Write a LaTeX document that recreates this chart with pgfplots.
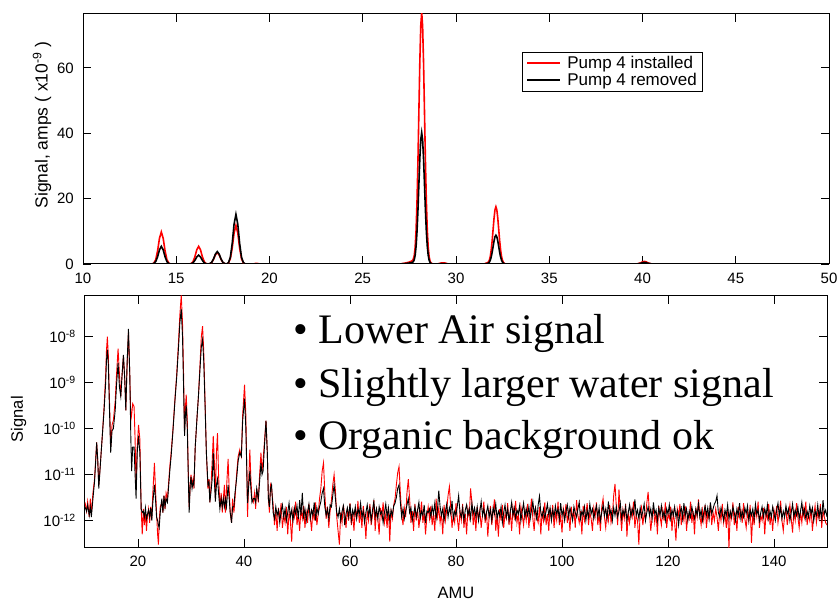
\documentclass[border=0pt]{standalone}
\usepackage{pgfplots}
\usepackage{pgfplotstable}
\pgfplotsset{compat=1.18}
\usepackage{fontspec}
\setmainfont{Liberation Sans}
\newfontfamily\timesfont{Liberation Serif}

% top panel: linear signal in units of 1e-9 A
\pgfplotstableread{
x r b
10 0 0
13.7 0 0
13.8 .27 .15
13.9 1.32 .73
14.0 4.03 2.22
14.1 7.85 4.33
14.2 9.8 5.4
14.3 7.85 4.33
14.4 4.03 2.22
14.5 1.32 .73
14.6 .27 .15
14.7 0 0
15.7 0 0
15.8 .15 .08
15.9 .73 .36
16.0 2.22 1.11
16.1 4.33 2.16
16.2 5.4 2.7
16.3 4.33 2.16
16.4 2.22 1.11
16.5 .73 .36
16.6 .15 .08
16.7 0 0
16.8 .1 .11
16.9 .47 .51
17.0 1.44 1.56
17.1 2.8 3.04
17.2 3.5 3.8
17.3 2.8 3.04
17.4 1.44 1.56
17.5 .47 .51
17.6 .1 .11
17.7 0 0
17.8 .33 .43
17.9 1.59 2.05
18.0 4.85 6.25
18.1 9.45 12.18
18.2 11.8 15.2
18.3 9.45 12.18
18.4 4.85 6.25
18.5 1.59 2.05
18.6 .33 .43
18.7 0 0
19.1 0 0
19.3 .2 0
19.5 0 0
27.0 0 0
27.3 .3 .15
27.5 .6 .3
27.66 1.0 .5
27.71 1.5 .7
27.76 2.5 1.3
27.81 5.1 2.65
27.86 10.4 5.43
27.91 19.2 10.0
27.96 31.6 16.5
28.01 46.7 24.4
28.06 61.7 32.2
28.11 72.8 38.0
28.16 77 40.2
28.21 72.8 38.0
28.26 61.7 32.2
28.31 46.7 24.4
28.36 31.6 16.5
28.41 19.2 10.0
28.46 10.4 5.43
28.51 5.1 2.65
28.56 2.2 1.13
28.61 .85 .44
28.66 .3 .16
28.76 0 0
29.0 0 0
29.2 .3 .1
29.4 .3 .1
29.6 0 0
31.5 0 0
31.64 .3 .1
31.69 .4 .15
31.74 .6 .3
31.79 1.16 .58
31.84 2.36 1.19
31.89 4.36 2.19
31.94 7.19 3.62
31.99 10.62 5.34
32.04 14.02 7.05
32.09 16.56 8.32
32.14 17.5 8.8
32.19 16.56 8.32
32.24 14.02 7.05
32.29 10.62 5.34
32.34 7.19 3.62
32.39 4.36 2.19
32.44 2.36 1.19
32.49 1.16 .58
32.54 .49 .25
32.59 .19 .1
32.64 .07 .03
32.7 0 0
39.7 0 0
39.9 .35 .2
40.0 .65 .4
40.1 .8 .5
40.2 .65 .4
40.3 .35 .2
40.5 0 0
50 0 0
}\topdata

% bottom panel: log signal in units of 1e-12 A
\pgfplotstableread{
x r b
10.0 2.5 2.0
10.3 1.6 1.6
10.5 2.6 2.2
10.8 1.2 1.3
11.0 3.0 2.0
11.2 1.4 1.2
11.5 4.0 3.0
11.8 8 7
12.0 20 18
12.2 50 50
12.4 20 22
12.6 6 5
12.8 12 11
13.0 25 25
13.3 80 80
13.6 300 250
13.9 1500 1000
14.05 5000 3000
14.22 10000 5200
14.4 4000 2500
14.6 500 300
14.85 40 30
15.1 120 90
15.35 150 100
15.7 400 250
15.95 1500 900
16.24 5500 2700
16.5 1500 800
16.75 500 500
17.0 1500 1500
17.25 3800 4000
17.5 1200 1200
17.7 250 250
17.95 2500 2800
18.2 12300 14800
18.45 1500 1500
18.65 150 60
18.8 200 12
19.0 350 40
19.26 300 40
19.45 60 10
19.64 5 3
19.85 40 30
20.1 120 70
20.35 60 30
20.6 1.8 1.8
20.8 0.5 1.5
21.0 1.8 1.6
21.2 0.8 1.2
21.4 1.5 1.9
21.6 0.6 1.1
21.8 1.3 1.4
22.0 1.8 1.7
22.2 0.9 1.2
22.4 2.0 1.9
22.6 1.1 1.0
22.8 4 2.5
23.1 18 6
23.3 5 3
23.5 1.5 1.2
23.7 0.5 1.0
23.86 0.3 0.8
24.0 1.0 0.7
24.2 2.0 1.5
24.5 2.5 3
24.7 1.5 1.5
24.9 3.5 3.5
25.1 1.8 2
25.3 4 3
25.55 3 2.5
25.75 6 5
26.0 15 12
26.25 30 25
26.6 100 90
27.0 500 450
27.3 1500 1300
27.65 8000 6000
27.9 30000 20000
28.16 80000 40000
28.4 20000 10000
28.6 1500 800
28.78 80 70
28.95 300 200
29.1 550 320
29.3 150 100
29.5 10 8
29.66 2 1.5
29.85 6 6
30.0 10 9
30.2 6 5
30.4 8 7
30.55 5 6
30.8 40 40
31.1 150 150
31.4 500 500
31.7 2500 2000
31.95 10000 6000
32.18 17000 8700
32.4 5000 3000
32.68 300 250
32.9 30 30
33.2 5 6
33.4 8 7
33.55 2.5 2.5
33.75 5 4
34.0 20 8
34.2 70 30
34.4 20 8
34.6 3 2.6
34.8 30 6
35.0 80 8
35.2 10 4
35.45 2 1.8
35.7 4 3
35.9 1.5 2
36.1 3 3
36.3 6 2
36.5 1.5 3
36.7 5 2
37.0 22 6
37.2 5 3
37.4 1.5 1.5
37.65 0.9 0.9
37.85 3 2
38.1 1.5 2
38.3 3 4
38.6 10 8
38.9 25 20
39.2 35 30
39.5 25 25
39.75 200 150
40.1 900 450
40.35 200 100
40.67 1.2 2.4
40.9 8 6
41.1 35 12
41.3 8 5
41.5 3 2.5
41.75 2.5 3
42.0 4 3
42.2 1.8 2.5
42.4 5 5
42.7 2.5 3
42.9 8 6
43.2 30 18
43.4 12 10
43.6 20 12
43.85 50 40
44.15 150 150
44.4 30 30
44.6 3 3
44.8 1.5 2
45.0 6 5
45.2 5 6
45.5 2.2 1.5
45.75 0.8 1.1
46 1.6 2.0
46.25 0.6 1.3
46.5 1.9 1.7
46.75 1.1 0.9
47 2.4 1.6
47.25 0.7 2.2
47.5 1.3 1.2
47.75 0.9 1.8
48 2.0 1.0
48.25 0.5 1.5
48.5 1.5 2.4
48.75 1.0 1.2
49 0.35 1.7
49.25 1.7 1.0
49.5 1.2 1.9
49.75 2.6 1.4
50 0.8 2.1
50.25 1.4 1.1
50.5 0.6 2.8
50.75 1.8 1.3
51 1.1 4.0
51.25 2.1 1.2
51.5 0.7 1.8
51.75 1.5 1.0
52 0.9 1.6
52.25 2.3 2.3
52.5 1.2 1.1
52.75 0.6 1.7
53 1.7 1.3
53.25 1.0 2.5
53.5 2.5 1.0
53.75 0.8 1.9
54 1.4 1.4
54.25 3.0 2.0
54.5 5.0 2.6
54.75 12 4.0
55 18 5.0
55.25 4.0 2.0
55.5 1.1 1.3
55.75 2.0 1.8
56 0.7 1.1
56.25 1.6 2.2
56.5 2.8 2.0
56.75 6.0 3.5
57 10 6.0
57.25 4.5 3.0
57.5 1.2 1.5
57.75 0.6 1.2
58 0.3 1.8
58.25 1.5 1.0
58.5 0.9 1.6
58.75 2.2 2.1
59 1.3 0.8
59.25 0.7 1.4
59.5 1.8 1.9
59.75 1.0 1.2
60 2.4 2.3
60.25 0.8 1.0
60.5 1.4 1.7
60.75 0.6 1.3
61 1.9 2.0
61.25 1.1 1.1
61.5 2.7 1.8
61.75 0.9 1.4
62 1.5 2.4
62.25 0.7 1.2
62.5 2.1 1.6
62.75 1.2 0.9
63 0.4 1.5
63.25 1.6 2.2
63.5 1.0 1.3
63.75 2.3 1.9
64 0.8 1.0
64.25 1.3 1.7
64.5 2.8 2.6
64.75 0.6 1.2
65 1.7 1.8
65.25 1.1 1.1
65.5 0.5 2.0
65.75 1.9 1.4
66 1.2 1.6
66.25 2.5 0.9
66.5 0.9 1.5
66.75 1.4 2.3
67 0.7 1.2
67.25 2.0 1.9
67.5 0.35 1.0
67.75 1.6 1.7
68 1.1 1.3
68.25 2.2 2.1
68.5 3.0 2.4
68.75 6.0 3.2
69 11 5.0
69.25 15 6.0
69.5 4.0 2.5
69.75 1.4 1.2
70 0.8 1.8
70.25 1.9 1.1
70.5 1.2 1.6
70.75 4.0 2.2
71 8.0 3.0
71.25 3.0 1.5
71.5 0.9 1.9
71.75 1.6 1.0
72 0.6 1.4
72.25 2.3 2.0
72.5 1.0 1.2
72.75 1.8 1.7
73 0.7 2.5
73.25 1.3 1.1
73.5 2.6 1.6
73.75 0.9 1.3
74 1.5 2.2
74.25 0.5 0.9
74.5 1.2 1.6
74.75 2.0 1.5
75 1.1 1.8
75.25 2.1 1.2
75.5 0.8 2.0
75.75 1.4 1.4
76 0.6 2.4
76.25 3.0 1.1
76.5 1.2 1.7
76.75 1.9 4.5
77 0.9 2.0
77.25 1.5 1.3
77.5 0.5 1.8
77.75 2.2 1.0
78 1.0 1.6
78.25 1.7 2.3
78.5 3.5 1.2
78.75 5.5 1.9
79 2.0 1.4
79.25 0.7 2.7
79.5 1.3 1.1
79.75 0.9 1.6
80 2.4 1.3
80.25 1.1 2.1
80.5 0.6 3.5
80.75 1.6 1.5
81 1.0 1.2
81.25 2.3 1.9
81.5 0.7 1.0
81.75 1.4 1.7
82 0.5 2.2
82.25 1.8 1.3
82.5 1.2 1.8
82.75 5.0 1.1
83 2.5 2.4
83.25 0.8 1.4
83.5 1.5 1.9
83.75 0.6 1.2
84 2.0 2.0
84.25 1.1 1.0
84.5 1.7 1.6
84.75 0.7 2.6
85 1.3 1.3
85.25 2.6 1.8
85.5 0.9 1.1
85.75 1.6 1.5
86 0.45 2.1
86.25 1.2 1.2
86.5 2.1 1.7
86.75 0.8 1.0
87 1.5 1.9
87.25 2.9 1.4
87.5 0.6 2.3
87.75 1.3 1.1
88 0.45 1.6
88.25 1.8 1.3
88.5 1.0 2.0
88.75 2.2 0.9
89 0.7 1.5
89.25 1.4 2.2
89.5 1.1 1.2
89.75 2.4 1.8
90 0.8 1.0
90.25 1.6 1.6
90.5 0.6 2.5
90.75 1.9 1.3
91 1.2 1.9
91.25 2.7 1.1
91.5 0.9 1.7
91.75 1.4 1.4
92 0.5 2.1
92.25 2.0 1.0
92.5 1.3 1.6
92.75 0.8 2.4
93 1.7 1.2
93.25 1.0 1.8
93.5 2.3 1.3
93.75 0.7 2.0
94 1.5 1.1
94.25 3.0 1.7
94.5 1.1 2.6
94.75 0.6 1.4
95 1.8 1.9
95.25 1.2 1.0
95.5 0.9 2.2
95.75 2.0 3.4
96 0.5 1.5
96.25 1.6 1.2
96.5 1.0 1.8
96.75 2.5 1.1
97 0.8 1.6
97.25 1.4 2.3
97.5 0.6 1.3
97.75 1.9 1.9
98 1.1 1.0
98.25 2.2 1.7
98.5 0.7 1.2
98.75 1.5 2.1
99 1.0 1.4
99.25 2.6 1.8
99.5 0.8 1.1
99.75 1.3 2.4
100 0.55 1.3
100.25 1.8 1.7
100.5 1.2 1.0
100.75 2.3 1.6
101 0.9 2.2
101.25 1.5 1.2
101.5 0.6 1.9
101.75 2.0 1.4
102 1.1 1.0
102.25 1.7 2.0
102.5 0.7 1.5
102.75 2.8 1.2
103 1.3 1.8
103.25 0.9 2.5
103.5 1.6 1.1
103.75 0.5 1.6
104 2.1 1.3
104.25 1.0 2.0
104.5 1.4 1.0
104.75 2.4 1.7
105 0.8 1.2
105.25 1.5 2.3
105.5 1.1 1.4
105.75 0.6 1.8
106 1.9 1.1
106.25 1.2 1.6
106.5 2.5 2.1
106.75 0.8 1.2
107 1.4 1.9
107.25 0.6 1.0
107.5 2.0 1.5
107.75 3.0 2.2
108 1.2 1.3
108.25 0.7 1.8
108.5 1.6 1.1
108.75 1.0 2.6
109 2.2 1.4
109.25 0.9 1.7
109.5 1.3 1.0
109.75 3.5 1.9
110 6.3 1.3
110.25 2.0 2.0
110.5 0.8 1.2
110.75 4.8 1.6
111 1.5 2.4
111.25 0.6 1.1
111.5 1.7 1.7
111.75 1.1 1.3
112 2.3 2.0
112.25 0.45 1.0
112.5 1.4 1.5
112.75 0.9 2.2
113 1.8 1.2
113.25 1.2 1.8
113.5 2.6 1.4
113.75 0.7 2.9
114 1.3 1.3
114.25 1.0 1.7
114.5 0.3 1.1
114.75 1.6 1.9
115 2.0 1.2
115.25 0.8 1.6
115.5 1.4 2.3
115.75 1.1 1.0
116 2.4 1.5
116.25 4.2 2.0
116.5 1.5 1.3
116.75 0.6 1.8
117 1.2 1.1
117.25 1.9 2.5
117.5 0.9 1.4
117.75 1.5 1.7
118 0.5 1.0
118.25 2.1 1.9
118.5 1.2 1.3
118.75 0.8 2.1
119 1.7 1.2
119.25 1.0 1.6
119.5 2.5 1.0
119.75 0.7 1.8
120 1.4 1.4
120.25 1.1 2.2
120.5 2.0 1.1
120.75 0.6 1.7
121 1.5 1.3
121.25 0.9 2.0
121.5 0.37 1.2
121.75 1.8 1.6
122 1.3 0.8
122.25 2.3 1.5
122.5 0.8 1.9
122.75 1.5 1.1
123 1.0 2.4
123.25 2.1 1.3
123.5 0.6 1.8
123.75 1.4 1.0
124 1.1 1.6
124.25 2.6 1.2
124.5 0.9 2.0
124.75 1.6 1.4
125 0.5 1.1
125.25 1.9 1.8
125.5 1.2 1.3
125.75 2.9 2.3
126 1.3 1.2
126.25 0.8 1.7
126.5 1.7 1.0
126.75 1.0 1.5
127 2.2 2.1
127.25 0.7 1.3
127.5 1.4 1.9
127.75 1.1 1.1
128 2.4 2.5
128.25 0.8 1.4
128.5 1.5 1.8
128.75 1.0 2.3
129 1.8 2.6
129.25 1.2 3.5
129.5 0.6 1.5
129.75 1.6 1.2
130 1.0 1.9
130.25 2.3 1.4
130.5 0.9 1.0
130.75 1.4 1.7
131 0.7 1.3
131.25 1.9 2.2
131.5 0.25 1.1
131.75 1.5 1.6
132 1.1 1.2
132.25 2.5 2.0
132.5 0.8 1.5
132.75 1.3 1.0
133 0.6 1.8
133.25 2.0 1.3
133.5 1.2 2.4
133.75 1.7 1.1
134 0.9 1.6
134.25 2.4 1.2
134.5 1.1 1.9
134.75 0.7 1.4
135 1.5 2.1
135.25 1.0 1.0
135.5 2.2 1.7
135.75 0.33 1.3
136 1.4 1.8
136.25 0.8 1.1
136.5 1.8 2.3
136.75 1.2 1.4
137 2.6 1.7
137.25 0.7 1.0
137.5 1.3 1.5
137.75 1.0 2.0
138 1.9 1.2
138.25 0.5 1.8
138.5 1.5 1.3
138.75 1.1 2.2
139 2.3 1.1
139.25 0.8 1.6
139.5 1.4 1.2
139.75 0.6 2.0
140 1.7 1.4
140.25 1.2 1.0
140.5 2.1 1.7
140.75 0.9 2.4
141 1.5 1.3
141.25 2.7 1.9
141.5 1.0 1.1
141.75 0.6 1.6
142 1.3 1.2
142.25 1.8 2.1
142.5 0.8 1.4
142.75 1.4 1.8
143 2.2 1.0
143.25 1.1 1.5
143.5 0.55 2.3
143.75 1.6 1.2
144 1.0 1.7
144.25 2.4 1.3
144.5 1.2 2.0
144.75 0.7 1.1
145 1.5 1.6
145.25 0.9 2.5
145.5 1.9 1.3
145.75 1.2 1.8
146 2.6 1.1
146.25 0.8 1.6
146.5 1.4 1.2
146.75 1.0 2.1
147 1.8 1.4
147.25 0.6 1.9
147.5 1.3 1.0
147.75 2.1 1.6
148 0.9 1.3
148.25 1.5 2.2
148.5 1.1 1.2
148.75 2.3 1.8
149 0.7 1.1
149.25 1.6 2.8
149.5 1.2 1.4
149.75 0.9 1.7
150 0.8 1.2
}\bottomdata

\pgfplotsset{
  specaxis/.style={
    scale only axis,
    axis line style={line width=1pt},
    major tick style={line width=0.9pt, black},
    major tick length=8pt,
    tick align=inside,
    tick label style={font=\fontsize{15}{18}\selectfont, inner sep=1pt},
    xticklabel style={yshift=-8pt},
    yticklabel style={xshift=-8pt},
    label style={font=\fontsize{16.5}{19}\selectfont},
  },
}

\begin{document}
\begin{tikzpicture}
\useasboundingbox (0,0) rectangle (838pt,602pt);

\begin{axis}[
    specaxis,
    at={(83pt,338pt)}, anchor=south west,
    width=746pt, height=250pt,
    xmin=10, xmax=50, ymin=0, ymax=76.5,
    xtick={10,15,...,50},
    ytick={0,20,40,60},
    /pgf/number format/assume math mode=true,
    ylabel={Signal, amps ( x10\textsuperscript{-9} )},
    ylabel style={at={(axis description cs:-0.055,0.556)}, anchor=center,
        font=\fontsize{17.5}{20}\selectfont},
    legend style={at={(0.5885,0.848)}, anchor=north west,
        draw=black, line width=0.8pt,
        font=\fontsize{17}{18}\selectfont,
        inner xsep=4pt, inner ysep=3pt, row sep=1pt, column sep=4pt,
        nodes={inner ysep=1pt}},
    legend cell align=left,
    legend image code/.code={\draw[#1] plot coordinates {(0pt,0pt) (16pt,0pt) (33pt,0pt)};},
    legend image post style={line width=1.9pt},
]
\addplot[red, line width=1.6pt] table[x=x, y=r] {\topdata};
\addlegendentry{Pump 4 installed}
\addplot[black, line width=1.6pt] table[x=x, y=b] {\topdata};
\addlegendentry{Pump 4 removed}
\end{axis}

\begin{axis}[
    specaxis,
    at={(85pt,54.7pt)}, anchor=south west,
    width=742pt, height=251.3pt,
    ymode=log,
    xmin=10, xmax=150, ymin=0.263, ymax=76700,
    xtick={20,40,...,140},
    ytick={1,10,100,1000,10000},
    yticklabels={10\textsuperscript{-12},10\textsuperscript{-11},10\textsuperscript{-10},10\textsuperscript{-9},10\textsuperscript{-8}},
    yminorticks=false,
    /pgf/number format/assume math mode=true,
    xlabel={AMU},
    xlabel style={at={(axis description cs:0.5,-0.182)}, anchor=center},
    ylabel={Signal},
    ylabel style={at={(axis description cs:-0.0896,0.51)}, anchor=center},
]
\addplot[red, line width=0.9pt] table[x=x, y=r] {\bottomdata};
\addplot[black, line width=0.9pt] table[x=x, y=b] {\bottomdata};
\end{axis}

\begin{scope}[every node/.style={anchor=base west, inner sep=0pt,
    font=\timesfont\fontsize{42}{50}\selectfont}]
\node at (293pt,258pt) {• Lower Air signal};
\node at (293pt,204pt) {• Slightly larger water signal};
\node at (293pt,152pt) {• Organic background ok};
\end{scope}
\end{tikzpicture}
\end{document}
